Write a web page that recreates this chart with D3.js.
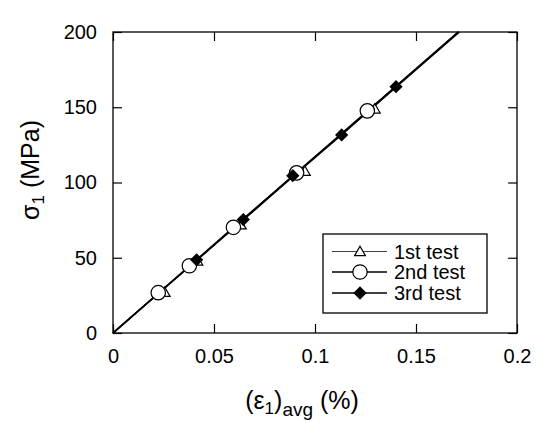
<!DOCTYPE html>
<html><head><meta charset="utf-8">
<script src="https://cdn.jsdelivr.net/npm/d3@7"></script>
<style>body{margin:0;background:#fff;} svg{display:block;font-family:"Liberation Sans",Arial,sans-serif;}</style>
</head><body>
<svg id="c" width="541" height="423"></svg>
<script>
const xTicks = [0, 0.05, 0.1, 0.15, 0.2];
const yTicks = [0, 50, 100, 150, 200];
const seriesNames = ["1st test", "2nd test", "3rd test"];
// line paths (strain %, stress MPa)
const line1 = [[0,0],[0.0240,28.0],[0.0400,46.6],[0.0620,72.3],[0.0935,108.9],[0.1285,149.6],[0.1715,200]];
const line2 = [[0,0],[0.0224,26.4],[0.0378,44.5],[0.0596,70.2],[0.0909,106.6],[0.1259,147.4],[0.1708,200]];
const line3 = [[0,0],[0.0414,48.4],[0.0645,75.3],[0.0890,104.2],[0.1132,131.8],[0.1401,163.7],[0.1712,200]];
// markers
const marks1 = [[0.0256,26.4],[0.0418,47.2],[0.0633,71.2],[0.0950,106.8],[0.1296,148.2]];
const marks2 = [[0.0224,26.8],[0.0378,44.7],[0.0596,70.2],[0.0909,106.4],[0.1259,147.6]];
const marks3 = [[0.0414,48.6],[0.0645,75.4],[0.0890,104.5],[0.1132,131.6],[0.1401,163.7]];

const svg = d3.select("#c");
const L = 113, R = 517, T = 32, B = 333;
const x = d3.scaleLinear().domain([0, 0.2]).range([L, R]);
const y = d3.scaleLinear().domain([0, 200]).range([B, T]);
const tl = 9;

const gx = svg.append("g").attr("transform", `translate(0,${B})`)
  .call(d3.axisBottom(x).tickValues(xTicks).tickSize(-tl).tickPadding(16).tickFormat(d => d3.format("")(d)));
const gy = svg.append("g").attr("transform", `translate(${L},0)`)
  .call(d3.axisLeft(y).tickValues(yTicks).tickSize(-tl).tickPadding(16));
const gt = svg.append("g").attr("transform", `translate(0,${T})`)
  .call(d3.axisTop(x).tickValues(xTicks).tickSize(-tl).tickFormat(""));
const gr = svg.append("g").attr("transform", `translate(${R},0)`)
  .call(d3.axisRight(y).tickValues(yTicks).tickSize(-tl).tickFormat(""));
[gx, gy, gt, gr].forEach(g => {
  g.select(".domain").remove();
  g.selectAll("line").attr("stroke", "#000").attr("stroke-width", 1.2);
  g.selectAll("text").attr("font-size", 20).attr("fill", "#000").attr("font-family", "Liberation Sans, Arial, sans-serif");
});
gx.selectAll("text").attr("dy", "0.71em");

svg.append("rect").attr("x", L).attr("y", T).attr("width", R - L).attr("height", B - T)
  .attr("fill", "none").attr("stroke", "#000").attr("stroke-width", 1.3);

const line = d3.line().x(d => x(d[0])).y(d => y(d[1]));
const plot = svg.append("g");
plot.append("path").datum(line1).attr("d", line).attr("fill", "none").attr("stroke", "#222").attr("stroke-width", 1.3);
plot.append("path").datum(line2).attr("d", line).attr("fill", "none").attr("stroke", "#000").attr("stroke-width", 1.5);
plot.append("path").datum(line3).attr("d", line).attr("fill", "none").attr("stroke", "#000").attr("stroke-width", 1.7);

const tri = d3.symbol().type(d3.symbolTriangle).size(50);
const dia = d3.symbol().type(d3.symbolSquare).size(88);

plot.selectAll(".m1").data(marks1).join("path")
  .attr("transform", d => `translate(${x(d[0])},${y(d[1])})`)
  .attr("d", tri).attr("fill", "#fff").attr("stroke", "#000").attr("stroke-width", 1.2);
plot.selectAll(".m2").data(marks2).join("circle")
  .attr("cx", d => x(d[0])).attr("cy", d => y(d[1])).attr("r", 7.2)
  .attr("fill", "#fff").attr("stroke", "#000").attr("stroke-width", 1.2);
plot.selectAll(".m3").data(marks3).join("path")
  .attr("transform", d => `translate(${x(d[0])},${y(d[1])}) rotate(45)`)
  .attr("d", dia).attr("fill", "#000");

// legend
const lg = svg.append("g");
lg.append("rect").attr("x", 323).attr("y", 234).attr("width", 164).attr("height", 79)
  .attr("fill", "#fff").attr("stroke", "#000").attr("stroke-width", 1.3);
const rows = [251.5, 272, 293];
seriesNames.forEach((name, i) => {
  const yy = rows[i];
  lg.append("line").attr("x1", 332).attr("x2", 387).attr("y1", yy).attr("y2", yy)
    .attr("stroke", i === 0 ? "#444" : "#000").attr("stroke-width", i === 0 ? 1.0 : 1.4);
  if (i === 0) lg.append("path").attr("transform", `translate(360,${yy + 1})`).attr("d", tri)
    .attr("fill", "#fff").attr("stroke", "#000").attr("stroke-width", 1.2);
  if (i === 1) lg.append("circle").attr("cx", 360).attr("cy", yy).attr("r", 7.2)
    .attr("fill", "#fff").attr("stroke", "#000").attr("stroke-width", 1.2);
  if (i === 2) lg.append("path").attr("transform", `translate(360,${yy}) rotate(45)`).attr("d", dia).attr("fill", "#000");
  lg.append("text").attr("x", 394).attr("y", yy + 7).attr("font-size", 20).text(name);
});

// axis titles
const xt = svg.append("text").attr("x", 302).attr("y", 409).attr("text-anchor", "middle").attr("font-size", 25);
xt.append("tspan").text("(\u03b5");
xt.append("tspan").attr("font-size", 17).attr("dy", 5).text("1");
xt.append("tspan").attr("dy", -5).text(")");
xt.append("tspan").attr("font-size", 19).attr("dy", 7).text("avg");
xt.append("tspan").attr("dy", -7).text(" (%)");

const yt = svg.append("text").attr("transform", "translate(39,170) rotate(-90)")
  .attr("text-anchor", "middle").attr("font-size", 25);
yt.append("tspan").text("\u03c3");
yt.append("tspan").attr("font-size", 17).attr("dy", 5).text("1");
yt.append("tspan").attr("dy", -5).text(" (MPa)");
</script>
</body></html>
